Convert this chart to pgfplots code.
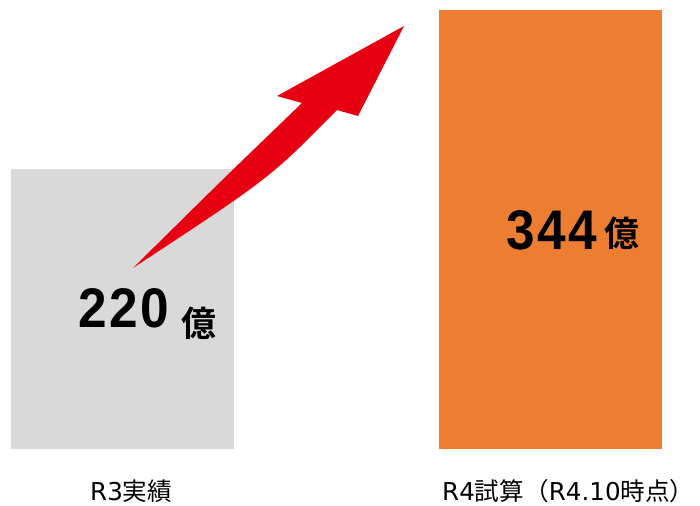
\documentclass[border=0pt]{standalone}
\usepackage{fontspec}
\usepackage{pgfplots}
\pgfplotsset{compat=1.18}
\setmainfont{Noto Sans CJK JP}
\newfontfamily\latin{DejaVu Sans}
\newfontfamily\numfont[FakeStretch=0.92,LetterSpace=5]{Liberation Sans}
\newfontfamily\cjkbold{Noto Sans CJK JP Bold}
\definecolor{barGray}{HTML}{D9D9D9}
\definecolor{barOrange}{HTML}{ED7D31}
\definecolor{arrowRed}{HTML}{E60012}
\begin{document}
\begin{tikzpicture}
\begin{axis}[
  width=700bp, height=505bp, scale only axis,
  xmin=0, xmax=700, ymin=-43.92, ymax=352.16,
  axis lines=none, clip=false,
  ybar, bar width=223, bar shift=0pt,
]
\addplot[fill=barGray, draw=none] coordinates {(122.5,220)};
\addplot[fill=barOrange, draw=none] coordinates {(550.5,344)};
% arrow
\fill[arrowRed] (axis cs:133,141.96) .. controls (axis cs:222,210.98) .. (axis cs:302,271.37)
  -- (axis cs:277,276.86) -- (axis cs:404,331.76) -- (axis cs:358,261.18) -- (axis cs:337,265.88)
  .. controls (axis cs:270,212.55) .. cycle;
\node[anchor=base west, inner sep=0pt, font={\numfont\bfseries\fontsize{56}{56}\selectfont}] at (axis cs:78,95.69) {220};
\node[anchor=base west, inner sep=0pt, font={\cjkbold\fontsize{35}{35}\selectfont}] at (axis cs:181,88) {億};
\node[anchor=base west, inner sep=0pt, font={\numfont\bfseries\fontsize{56}{56}\selectfont}] at (axis cs:506,156.86) {344};
\node[anchor=base west, inner sep=0pt, font={\cjkbold\fontsize{35}{35}\selectfont}] at (axis cs:604,158.5) {億};
\node[anchor=base west, inner sep=0pt, font={\fontsize{24.7}{24.7}\selectfont}] at (axis cs:90,-40) {{\latin R3}実績};
\node[anchor=base west, inner sep=0pt, font={\fontsize{24.7}{24.7}\selectfont}] at (axis cs:442,-40) {{\latin R4}試算（{\latin R4.10}時点）};
\end{axis}
\path (current axis.south west) rectangle (current axis.north east);
\end{tikzpicture}
\end{document}
